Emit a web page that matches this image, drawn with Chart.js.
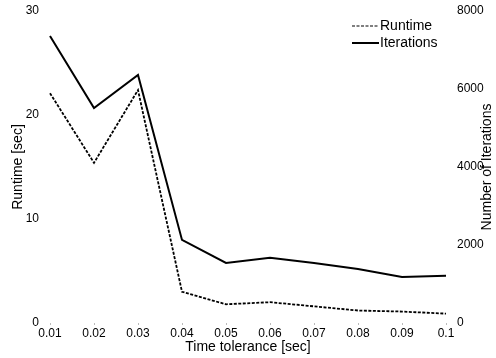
<!DOCTYPE html>
<html>
<head>
<meta charset="utf-8">
<script src="https://cdn.jsdelivr.net/npm/chart.js@4/dist/chart.umd.min.js"></script>
<style>
  html, body { margin: 0; padding: 0; background: #fff; }
  #wrap { width: 496px; height: 358px; }
</style>
</head>
<body>
<div id="wrap"><canvas id="c" width="496" height="358"></canvas></div>
<script>
const categories = ['0.01', '0.02', '0.03', '0.04', '0.05', '0.06', '0.07', '0.08', '0.09', '0.1'];
const runtime = [22.1, 15.4, 22.4, 3.0, 1.8, 2.0, 1.6, 1.2, 1.1, 0.9];
const iterations = [7360, 5510, 6360, 2130, 1540, 1670, 1540, 1385, 1180, 1210];
const leftTicks = [0, 10, 20, 30];
const rightTicks = [0, 2000, 4000, 6000, 8000];
const rightTitle = 'Number of Iterations';

const FONT = 'Liberation Sans, Arial, Helvetica, sans-serif';

const legendPlugin = {
  id: 'customLegend',
  afterDraw(chart) {
    const ctx = chart.ctx;
    const ca = chart.chartArea;
    const x0 = ca.right - 94, lineW = 27;
    const ys = [ca.top + 15, ca.top + 32];
    ctx.save();
    ctx.font = '14px ' + FONT;
    ctx.textBaseline = 'middle';
    ctx.fillStyle = '#000';
    chart.data.datasets.forEach((ds, i) => {
      ctx.beginPath();
      ctx.strokeStyle = '#000';
      ctx.lineWidth = i === 0 ? 1.2 : 2;
      ctx.setLineDash(i === 0 ? [3, 1.5] : []);
      ctx.moveTo(x0, ys[i]);
      ctx.lineTo(x0 + lineW, ys[i]);
      ctx.stroke();
      ctx.setLineDash([]);
      ctx.fillText(ds.label, x0 + lineW + 1, ys[i]);
    });
    // right axis title, reading bottom-to-top
    const s = chart.scales.y1;
    ctx.translate(487, (s.top + s.bottom) / 2);
    ctx.rotate(-Math.PI / 2);
    ctx.textAlign = 'center';
    ctx.fillText(rightTitle, 0, 0);
    ctx.restore();
  }
};

new Chart(document.getElementById('c'), {
  type: 'line',
  data: {
    labels: categories,
    datasets: [
      {
        label: 'Runtime',
        data: runtime,
        yAxisID: 'y',
        borderColor: '#000',
        borderWidth: 1.8,
        borderDash: [3, 1.5],
        pointRadius: 0,
        tension: 0,
        fill: false
      },
      {
        label: 'Iterations',
        data: iterations,
        yAxisID: 'y1',
        borderColor: '#000',
        borderWidth: 2,
        pointRadius: 0,
        tension: 0,
        fill: false
      }
    ]
  },
  options: {
    responsive: false,
    animation: false,
    devicePixelRatio: 1,
    layout: { padding: { top: 11, left: 0, right: 0, bottom: 0 } },
    plugins: {
      legend: { display: false },
      tooltip: { enabled: false }
    },
    scales: {
      x: {
        type: 'category',
        offset: false,
        border: { display: false },
        grid: { display: true, drawOnChartArea: false, drawTicks: true, tickLength: 2, color: '#bbb' },
        ticks: { color: '#000', font: { family: FONT, size: 12 }, padding: 1, maxRotation: 0, autoSkip: false },
        title: { display: true, text: 'Time tolerance [sec]', color: '#000', font: { family: FONT, size: 14 }, padding: { top: 0, bottom: 2 } },
        afterFit: s => { s.height = 35; }
      },
      y: {
        position: 'left',
        min: 0, max: 30,
        afterBuildTicks: s => { s.ticks = leftTicks.map(v => ({ value: v })); },
        border: { display: false },
        grid: { display: false },
        ticks: { color: '#000', font: { family: FONT, size: 12 }, padding: 3, callback: v => String(v) },
        title: { display: true, text: 'Runtime [sec]', color: '#000', font: { family: FONT, size: 14 }, padding: { top: 10, bottom: 0 } },
        afterFit: s => { s.width = 50; }
      },
      y1: {
        position: 'right',
        min: 0, max: 8000,
        afterBuildTicks: s => { s.ticks = rightTicks.map(v => ({ value: v })); },
        border: { display: false },
        grid: { display: false },
        ticks: { color: '#000', font: { family: FONT, size: 12 }, padding: 3, callback: v => String(v) },
        title: { display: false },
        afterFit: s => { s.width = 50; }
      }
    }
  },
  plugins: [legendPlugin]
});
</script>
</body>
</html>
